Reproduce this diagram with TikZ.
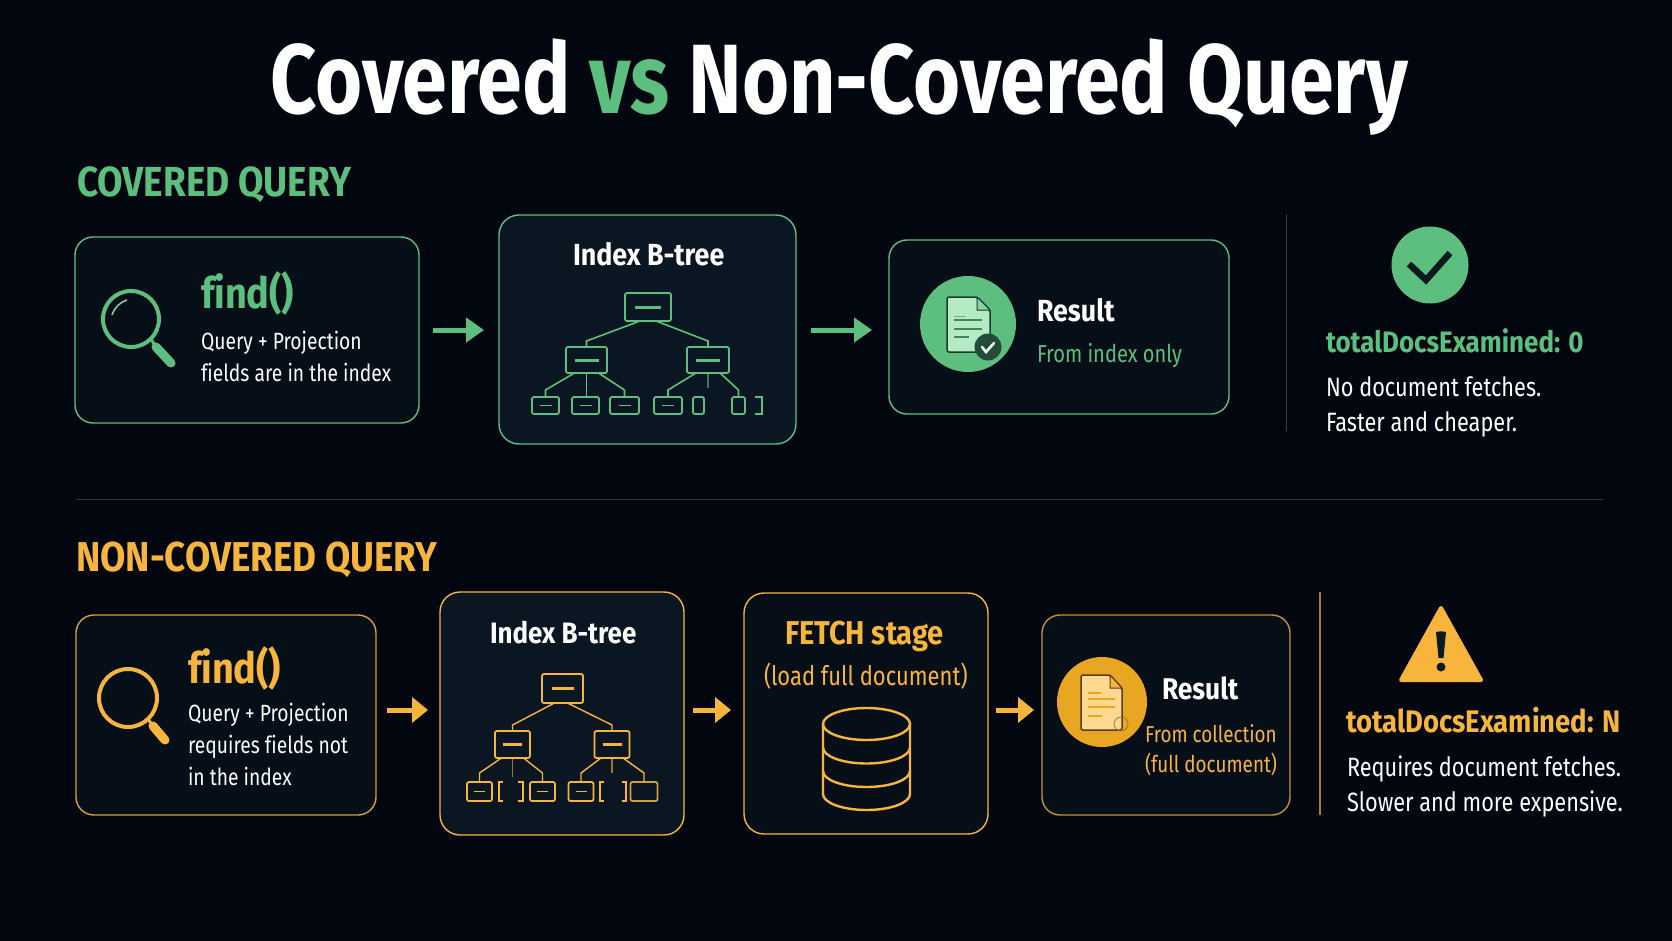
\documentclass[tikz,border=0pt]{standalone}
\usepackage{fontspec}
\setmainfont{Fira Sans}[FakeStretch=0.82,Ligatures=NoCommon]
\newfontfamily\headfont{Fira Sans}[FakeStretch=0.88,Ligatures=NoCommon]
\usepackage{xcolor}
\definecolor{PageBg}{HTML}{02060F}
\definecolor{BoxBg}{HTML}{060E17}
\definecolor{TreeBg}{HTML}{0A1621}
\definecolor{AGreen}{HTML}{5CBF7F}
\definecolor{AOrange}{HTML}{F7B53E}
\definecolor{OrangeIcon}{HTML}{E9A623}
\definecolor{GreenDoc}{HTML}{B5EBC4}
\definecolor{OrangeDoc}{HTML}{FFD88F}
\definecolor{InkDark}{HTML}{0B1A1C}
\usetikzlibrary{positioning, arrows.meta, shapes.geometric}
\tikzset{
    x=1pt, y=-1pt, % coordinates are the pixels of the picture
    every node/.style={inner sep=0pt, outer sep=0pt, text=white},
    Head/.style={font=\fontsize{#1}{#1}\headfont\bfseries\selectfont, anchor=west},
    Body/.style={font=\fontsize{23.5}{32}\selectfont, anchor=west, align=left},
}

\begin{document}
\begin{tikzpicture}[
        GreenBox/.style={rectangle, draw=AGreen, line width=1.4pt, fill=BoxBg, anchor=north west, rounded corners=18pt},
        OrangeBox/.style={rectangle, draw=AOrange, line width=1.4pt, fill=BoxBg, anchor=north west, rounded corners=18pt},
        GreenFlow/.style={draw=AGreen, line width=5pt, -{Triangle[length=18pt,width=24pt]}},
        OrangeFlow/.style={draw=AOrange, line width=5pt, -{Triangle[length=16pt,width=25pt]}},
        GreenTree/.style={rectangle, draw=AGreen, line width=1.8pt, rounded corners=2pt, text=AGreen},
        OrangeTree/.style={rectangle, draw=AOrange, line width=1.8pt, rounded corners=2pt, text=AOrange},
        GreenEdge/.style={draw=AGreen, line width=1.6pt},
        OrangeEdge/.style={draw=AOrange, line width=1.4pt}]

        \useasboundingbox (0,0) rectangle (1672,941);
        \fill[PageBg] (0,0) rectangle (1672,941);

        \node[font=\fontsize{98.5}{98.5}\bfseries\selectfont] (title) at (839.5,87)
            {Covered \textcolor{AGreen}{vs} Non-Covered Query};
        \node[Head=42, text=AGreen] (headA) at (77,185) {COVERED QUERY};
        \node[Head=41.7, text=AOrange] (headB) at (76,560) {NON-COVERED QUERY};

        \coordinate (ruleL) at (76,499);
        \coordinate (ruleR) at (1603,499);
        \draw[draw=white!18!PageBg, line width=1pt] (ruleL) -- (ruleR);

        %Covered row
        \node[GreenBox, minimum width=344, minimum height=186] (findA) at (75,237) {};
        \node[GreenBox, fill=TreeBg, minimum width=297, minimum height=229, rounded corners=20pt] (indexA) at (499,215) {};
        \node[GreenBox, minimum width=340, minimum height=174] (resultA) at (889,240) {};

        \draw[GreenFlow, shorten <=14pt, shorten >=15pt] (findA.east) -- (findA.east -| indexA.west);
        \draw[GreenFlow, shorten <=15pt, shorten >=17pt] (findA.east -| indexA.east) -- (findA.east -| resultA.west);

        \draw[AGreen, line width=4pt] (131,319) circle (28);
        \draw[AGreen!70!white, line width=1.5pt] (112,315) to[bend left=25] (127,300);
        \draw[AGreen, line width=3pt] (151,339) -- (156,347);
        \draw[AGreen, line width=9pt, line cap=round] (156,347) -- (171,363);

        \node[Head=43, text=AGreen] (findTextA) at (201,293) {find()};
        \node[Body] (findBodyA) at (201,356) {Query + Projection\\fields are in the index};

        \node[Head=30.5] (indexTextA) at (573,254) {Index B-tree};

        % tree of the covered row
        \node[GreenTree, minimum width=46, minimum height=28] (rootA) at (648,307) {\rule{26pt}{3pt}};
        \node[GreenTree, minimum width=41, minimum height=26] (midLA) at (586.5,360) {\rule{24pt}{3pt}};
        \node[GreenTree, minimum width=42, minimum height=26] (midRA) at (708,360) {\rule{24pt}{3pt}};
        \foreach \leaf/\cx/\lw in {leafAa/545.5/27, leafAb/585.5/27, leafAc/624.5/29, leafAd/668/28} {
            \node[GreenTree, minimum width=\lw, minimum height=17] (\leaf) at (\cx,405.5) {\rule{12pt}{1.6pt}};
        }
        \node[GreenTree, minimum width=11, minimum height=17] (leafAe) at (698.5,405.5) {};
        \node[GreenTree, minimum width=13, minimum height=17] (leafAf) at (738.5,405.5) {};
        \draw[GreenEdge] (755,397) -- (762,397) -- (762,414) -- (755,414);

        \draw[GreenEdge] ([xshift=-8pt]rootA.south) -- ([yshift=6pt]midLA.north) -- (midLA.north);
        \draw[GreenEdge] ([xshift=8pt]rootA.south) -- ([yshift=6pt]midRA.north) -- (midRA.north);
        \draw[GreenEdge] ([xshift=-12pt]midLA.south) -- ([yshift=7pt]leafAa.north) -- (leafAa.north);
        \draw[GreenEdge] (midLA.south) -- (midLA.south |- leafAb.north);
        \draw[GreenEdge] ([xshift=12pt]midLA.south) -- ([yshift=7pt]leafAc.north) -- (leafAc.north);
        \draw[GreenEdge] ([xshift=-12pt]midRA.south) -- ([yshift=7pt]leafAd.north) -- (leafAd.north);
        \draw[GreenEdge, draw opacity=.6] (midRA.south) -- ++(0,15);
        \draw[GreenEdge] ([xshift=12pt]midRA.south) -- ([yshift=7pt]leafAf.north) -- (leafAf.north);

        % result of the covered row
        \node[circle, fill=AGreen, minimum size=96] (iconA) at (968,324) {};
        \draw[draw=InkDark!80!AGreen, fill=GreenDoc, line width=1.5pt, rounded corners=2pt]
            (947,297) -- (977,297) -- (990,310) -- (990,352) -- (947,352) -- cycle;
        \draw[draw=InkDark!80!AGreen, fill=AGreen!50!GreenDoc, line width=1pt] (977,297) -- (977,310) -- (990,310) -- cycle;
        \draw[AGreen!70!black, line width=2pt] (954,320) -- (982,320) (954,329) -- (982,329) (954,337) -- (969,337);
        \draw[AGreen, line width=1pt] (954,316) -- (966,316);
        \node[circle, fill=InkDark!70!AGreen, minimum size=27] (badgeA) at (988,347) {};
        \draw[white!90!AGreen, line width=2.6pt, line cap=round] (982,347) -- (986,352) -- (994,343);

        \node[Head=30.5] (resultTextA) at (1037,310) {Result};
        \node[Body, text=AGreen, font=\fontsize{24.5}{32}\selectfont] (fromTextA) at (1037,356) {From index only};

        % summary of the covered row
        \coordinate (sideTopA) at (1286,214);
        \coordinate (sideEndA) at (1286,431);
        \draw[draw=white!22!PageBg, line width=1pt] (sideTopA) -- (sideEndA);
        \node[circle, fill=AGreen, minimum size=77] (okA) at (1430,265) {};
        \draw[InkDark, line width=6.5pt] (1409,264) -- (1426,280) -- (1450,253);
        \node[Head=29.5, text=AGreen] (examA) at (1326,341) {totalDocsExamined: 0};
        \node[Body, font=\fontsize{26.5}{35}\selectfont] (sumA) at (1326,407) {No document fetches.\\Faster and cheaper.};

        %Non-covered row
        \coordinate (flowB) at (0,710);
        \node[OrangeBox, draw=AOrange!88!black, minimum width=300, minimum height=200] (findB) at (76,615) {};
        \node[OrangeBox, fill=TreeBg, minimum width=244, minimum height=243, rounded corners=20pt] (indexB) at (440,592) {};
        \node[OrangeBox, minimum width=244, minimum height=241, rounded corners=20pt] (fetchB) at (744,593) {};
        \node[OrangeBox, draw=AOrange!80!black, minimum width=248, minimum height=200] (resultB) at (1042,615) {};

        \draw[OrangeFlow, shorten <=11pt, shorten >=12pt] (findB.east |- flowB) -- (indexB.west |- flowB);
        \draw[OrangeFlow, shorten <=9pt, shorten >=13pt] (indexB.east |- flowB) -- (fetchB.west |- flowB);
        \draw[OrangeFlow, shorten <=8pt, shorten >=8pt] (fetchB.east |- flowB) -- (resultB.west |- flowB);

        \draw[AOrange, line width=4pt] (128,698) circle (29);
        \draw[AOrange, line width=3pt] (148,719) -- (153,726);
        \draw[AOrange, line width=9pt, line cap=round] (153,726) -- (165,740);

        \node[Head=43, text=AOrange] (findTextB) at (188,668) {find()};
        \node[Body] (findBodyB) at (188,744) {Query + Projection\\requires fields not\\in the index};

        \node[Head=29.5] (indexTextB) at (490,633) {Index B-tree};

        % tree of the non-covered row
        \node[OrangeTree, minimum width=41, minimum height=29] (rootB) at (562.5,688.5) {\rule{22pt}{3pt}};
        \node[OrangeTree, minimum width=35, minimum height=27] (midLB) at (512.5,744.5) {\rule{19pt}{3.5pt}};
        \node[OrangeTree, minimum width=35, minimum height=27] (midRB) at (612,744.5) {\rule{19pt}{3.5pt}};
        \foreach \leaf/\cx/\lw in {leafBa/479.5/25, leafBb/542.5/25, leafBc/581/25} {
            \node[OrangeTree, minimum width=\lw, minimum height=19] (\leaf) at (\cx,791.5) {\rule{11pt}{1.6pt}};
        }
        \node[OrangeTree, minimum width=27, minimum height=19, draw opacity=.85] (leafBd) at (644,791.5) {};
        \draw[OrangeEdge] (503,782) -- (499,782) -- (499,801) -- (503,801);
        \draw[OrangeEdge] (518,782) -- (523,782) -- (523,801) -- (518,801);
        \draw[OrangeEdge] (604,782) -- (600,782) -- (600,801) -- (604,801);
        \draw[OrangeEdge] (622,782) -- (626,782) -- (626,801) -- (622,801);

        \draw[OrangeEdge] ([xshift=-8pt]rootB.south) -- ([yshift=6pt]midLB.north) -- (midLB.north);
        \draw[OrangeEdge] ([xshift=5pt]rootB.south) -- ([yshift=6pt]midRB.north) -- (midRB.north);
        \draw[OrangeEdge] ([xshift=-11pt]midLB.south) -- ([yshift=9pt]leafBa.north) -- (leafBa.north);
        \draw[OrangeEdge, draw opacity=.6] (midLB.south) -- ++(0,19);
        \draw[OrangeEdge] ([xshift=11pt]midLB.south) -- ([yshift=9pt]leafBb.north) -- (leafBb.north);
        \draw[OrangeEdge] ([xshift=-11pt]midRB.south) -- ([yshift=9pt]leafBc.north) -- (leafBc.north);
        \draw[OrangeEdge, draw opacity=.6] (midRB.south) -- ++(0,15);
        \draw[OrangeEdge] ([xshift=11pt]midRB.south) -- ([yshift=9pt]leafBd.north) -- (leafBd.north);

        % fetch stage
        \node[Head=33, text=AOrange] (fetchText) at (785,636) {FETCH stage};
        \node[Body, text=AOrange, font=\fontsize{26.8}{32}\selectfont] (loadText) at (764,676) {(load full document)};
        \draw[AOrange, line width=2.4pt] (866.5,724) ellipse (43.5 and 16);
        \draw[AOrange, line width=2.4pt] (823,724) -- (823,794) arc[start angle=180, end angle=360, x radius=43.5, y radius=-16] -- (910,724);
        \draw[AOrange, line width=2.4pt] (823,747.5) arc[start angle=180, end angle=360, x radius=43.5, y radius=-16];
        \draw[AOrange, line width=2.4pt] (823,771) arc[start angle=180, end angle=360, x radius=43.5, y radius=-16];

        % result of the non-covered row
        \node[circle, fill=OrangeIcon, minimum size=90] (iconB) at (1102,702) {};
        \draw[draw=AOrange!35!black, fill=OrangeDoc, line width=1.5pt, rounded corners=2pt]
            (1081,675) -- (1110,675) -- (1122,688) -- (1122,730) -- (1081,730) -- cycle;
        \draw[draw=AOrange!35!black, fill=AOrange, line width=1pt] (1110,675) -- (1110,688) -- (1122,688) -- cycle;
        \draw[OrangeIcon, line width=1.8pt] (1088,693) -- (1101,693) (1088,699) -- (1115,699) (1088,707) -- (1115,707) (1088,716) -- (1102,716);
        \draw[AOrange!60!black, line width=1pt, draw opacity=.7] (1121,724) circle (7);

        \node[Head=30] (resultTextB) at (1162,688) {Result};
        \node[Body, text=AOrange, align=center, font=\fontsize{23}{30}\selectfont] (fromTextB) at (1145,750) {From collection\\(full document)};

        % summary of the non-covered row
        \coordinate (sideTopB) at (1320,592);
        \coordinate (sideEndB) at (1320,815);
        \draw[draw=AOrange!70!PageBg, line width=1.5pt] (sideTopB) -- (sideEndB);
        \fill[AOrange, draw=AOrange, line width=4pt, line join=round] (1441,608) -- (1481,680) -- (1401,680) -- cycle;
        \fill[InkDark] (1436,632) to[bend left=12] (1446,632) -- (1443.5,658) -- (1438.5,658) -- cycle;
        \fill[InkDark] (1441,667) circle (4.5);
        \node[Head=31.2, text=AOrange] (examB) at (1346,720) {totalDocsExamined: N};
        \node[Body, font=\fontsize{26.5}{35.5}\selectfont] (sumB) at (1347,786.5) {Requires document fetches.\\Slower and more expensive.};
\end{tikzpicture}
\end{document}
